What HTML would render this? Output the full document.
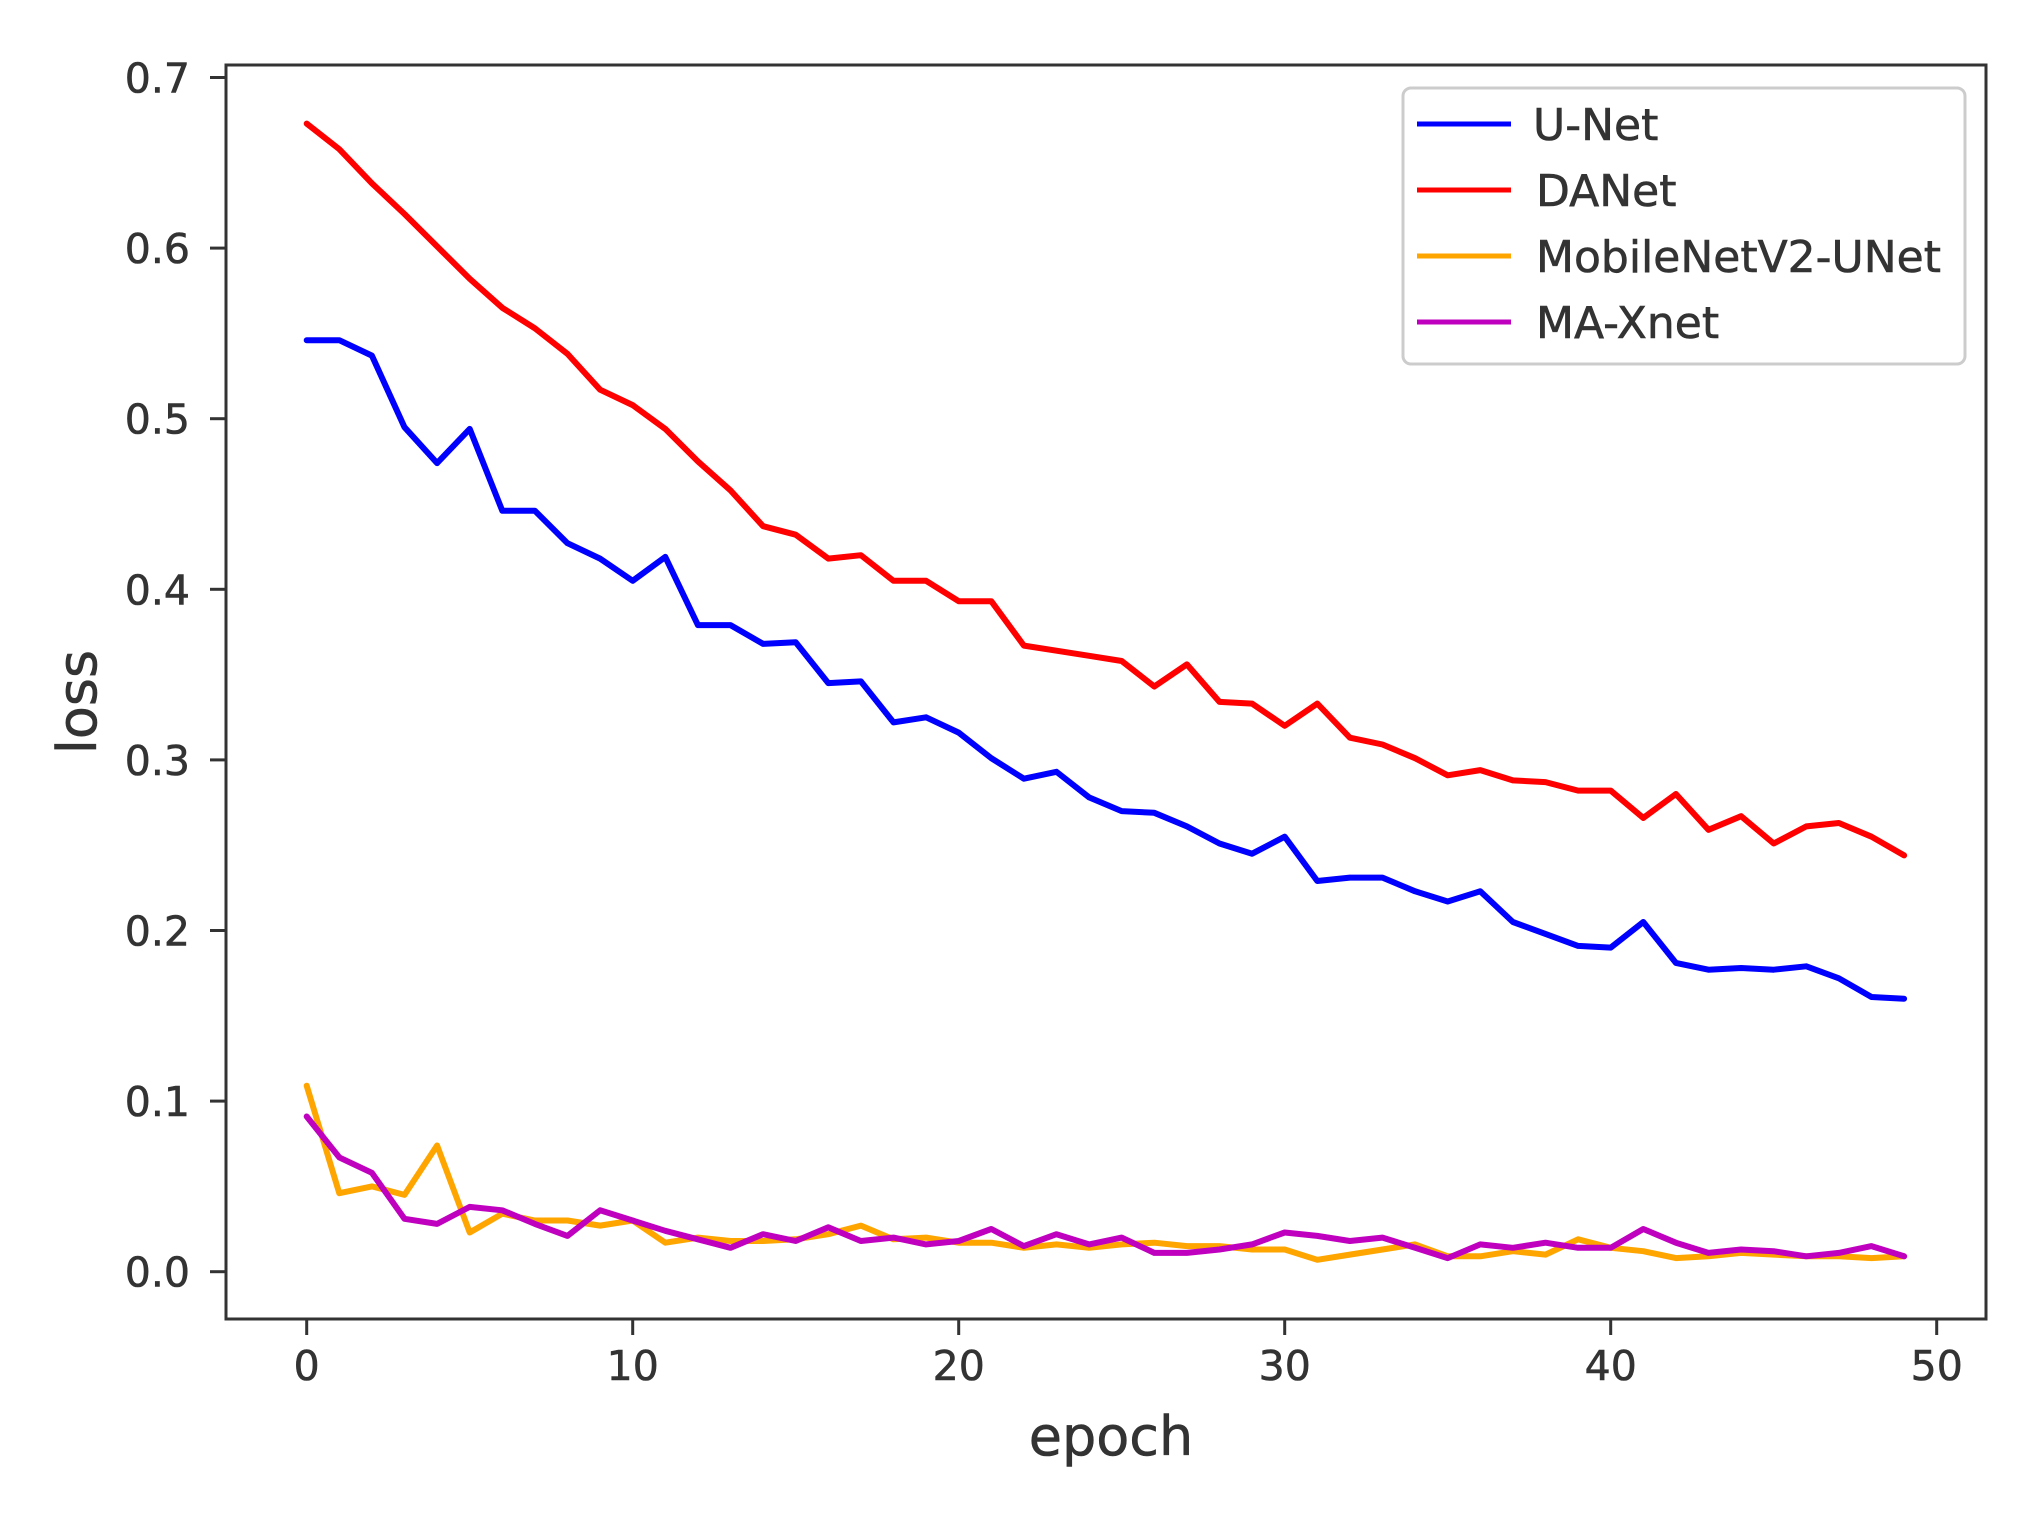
<!DOCTYPE html>
<html><head><meta charset="utf-8"><style>html,body{margin:0;padding:0;background:#fff}svg{display:block}</style></head>
<body>
<svg width="2027" height="1516" viewBox="0 0 2027 1516" xmlns="http://www.w3.org/2000/svg" font-family="DejaVu Sans, Liberation Sans, sans-serif" fill="#333">
<g id="ticks" stroke="#333" stroke-width="3"></g>
<g id="series" fill="none" stroke-width="6" stroke-linejoin="round" stroke-linecap="round"></g>
<rect x="226" y="65" width="1760" height="1254" fill="none" stroke="#333" stroke-width="3"/>
<g id="labels" font-size="41" stroke="#333" stroke-width="0.6"></g>
<text x="1111" y="1455" font-size="54" text-anchor="middle" stroke="#333" stroke-width="0.6">epoch</text>
<text transform="translate(96,702) rotate(-90)" font-size="54" text-anchor="middle" stroke="#333" stroke-width="0.6">loss</text>
<rect x="1403" y="88" width="562" height="276" rx="8" fill="#fff" fill-opacity="0.85" stroke="#ccc" stroke-width="3"/>
<g stroke-width="5">
<line x1="1417" y1="124" x2="1511" y2="124" stroke="#0000ff"/>
<line x1="1417" y1="190" x2="1511" y2="190" stroke="#ff0000"/>
<line x1="1417" y1="256" x2="1511" y2="256" stroke="#ffa500"/>
<line x1="1417" y1="322" x2="1511" y2="322" stroke="#bf00bf"/>
</g>
<g font-size="44" stroke="#333" stroke-width="0.6">
<text x="1533" y="140">U-Net</text>
<text x="1536" y="206">DANet</text>
<text x="1536" y="272">MobileNetV2-UNet</text>
<text x="1536" y="338">MA-Xnet</text>
</g>
<script>
var X=function(e){return 306.7+e*32.6},Y=function(v){return 1271.7-v*1706};
var d={
"#ff0000":[0.673,0.658,0.638,0.620,0.601,0.582,0.565,0.553,0.538,0.517,0.508,0.494,0.475,0.458,0.437,0.432,0.418,0.420,0.405,0.405,0.393,0.393,0.367,0.364,0.361,0.358,0.343,0.356,0.334,0.333,0.320,0.333,0.313,0.309,0.301,0.291,0.294,0.288,0.287,0.282,0.282,0.266,0.280,0.259,0.267,0.251,0.261,0.263,0.255,0.244],
"#0000ff":[0.546,0.546,0.537,0.495,0.474,0.494,0.446,0.446,0.427,0.418,0.405,0.419,0.379,0.379,0.368,0.369,0.345,0.346,0.322,0.325,0.316,0.301,0.289,0.293,0.278,0.270,0.269,0.261,0.251,0.245,0.255,0.229,0.231,0.231,0.223,0.217,0.223,0.205,0.198,0.191,0.190,0.205,0.181,0.177,0.178,0.177,0.179,0.172,0.161,0.160],
"#ffa500":[0.109,0.046,0.050,0.045,0.074,0.023,0.034,0.030,0.030,0.027,0.030,0.017,0.020,0.018,0.018,0.019,0.022,0.027,0.019,0.020,0.017,0.017,0.014,0.016,0.014,0.016,0.017,0.015,0.015,0.013,0.013,0.007,0.010,0.013,0.016,0.009,0.009,0.012,0.010,0.019,0.014,0.012,0.008,0.009,0.011,0.010,0.009,0.009,0.008,0.009],
"#bf00bf":[0.091,0.067,0.058,0.031,0.028,0.038,0.036,0.028,0.021,0.036,0.030,0.024,0.019,0.014,0.022,0.018,0.026,0.018,0.020,0.016,0.018,0.025,0.015,0.022,0.016,0.020,0.011,0.011,0.013,0.016,0.023,0.021,0.018,0.020,0.014,0.008,0.016,0.014,0.017,0.014,0.014,0.025,0.017,0.011,0.013,0.012,0.009,0.011,0.015,0.009]};
var NS="http://www.w3.org/2000/svg",s=document.getElementById("series");
for(var c in d){var p=document.createElementNS(NS,"polyline");p.setAttribute("stroke",c);
p.setAttribute("points",d[c].map(function(v,i){return X(i).toFixed(1)+","+Y(v).toFixed(1)}).join(" "));s.appendChild(p);}
var t=document.getElementById("ticks"),l=document.getElementById("labels");
function ln(a,b,c,e){var q=document.createElementNS(NS,"line");q.setAttribute("x1",a);q.setAttribute("y1",b);q.setAttribute("x2",c);q.setAttribute("y2",e);t.appendChild(q);}
function tx(x,y,s,a){var q=document.createElementNS(NS,"text");q.setAttribute("x",x);q.setAttribute("y",y);q.setAttribute("text-anchor",a);q.textContent=s;l.appendChild(q);}
for(var i=0;i<=7;i++){var y=Y(i/10);ln(210,y,226,y);tx(190,y+15,(i/10).toFixed(1),"end");}
for(var e=0;e<=50;e+=10){var x=X(e);ln(x,1319,x,1335);tx(x,1380,String(e),"middle");}
</script>
</svg>
</body></html>
